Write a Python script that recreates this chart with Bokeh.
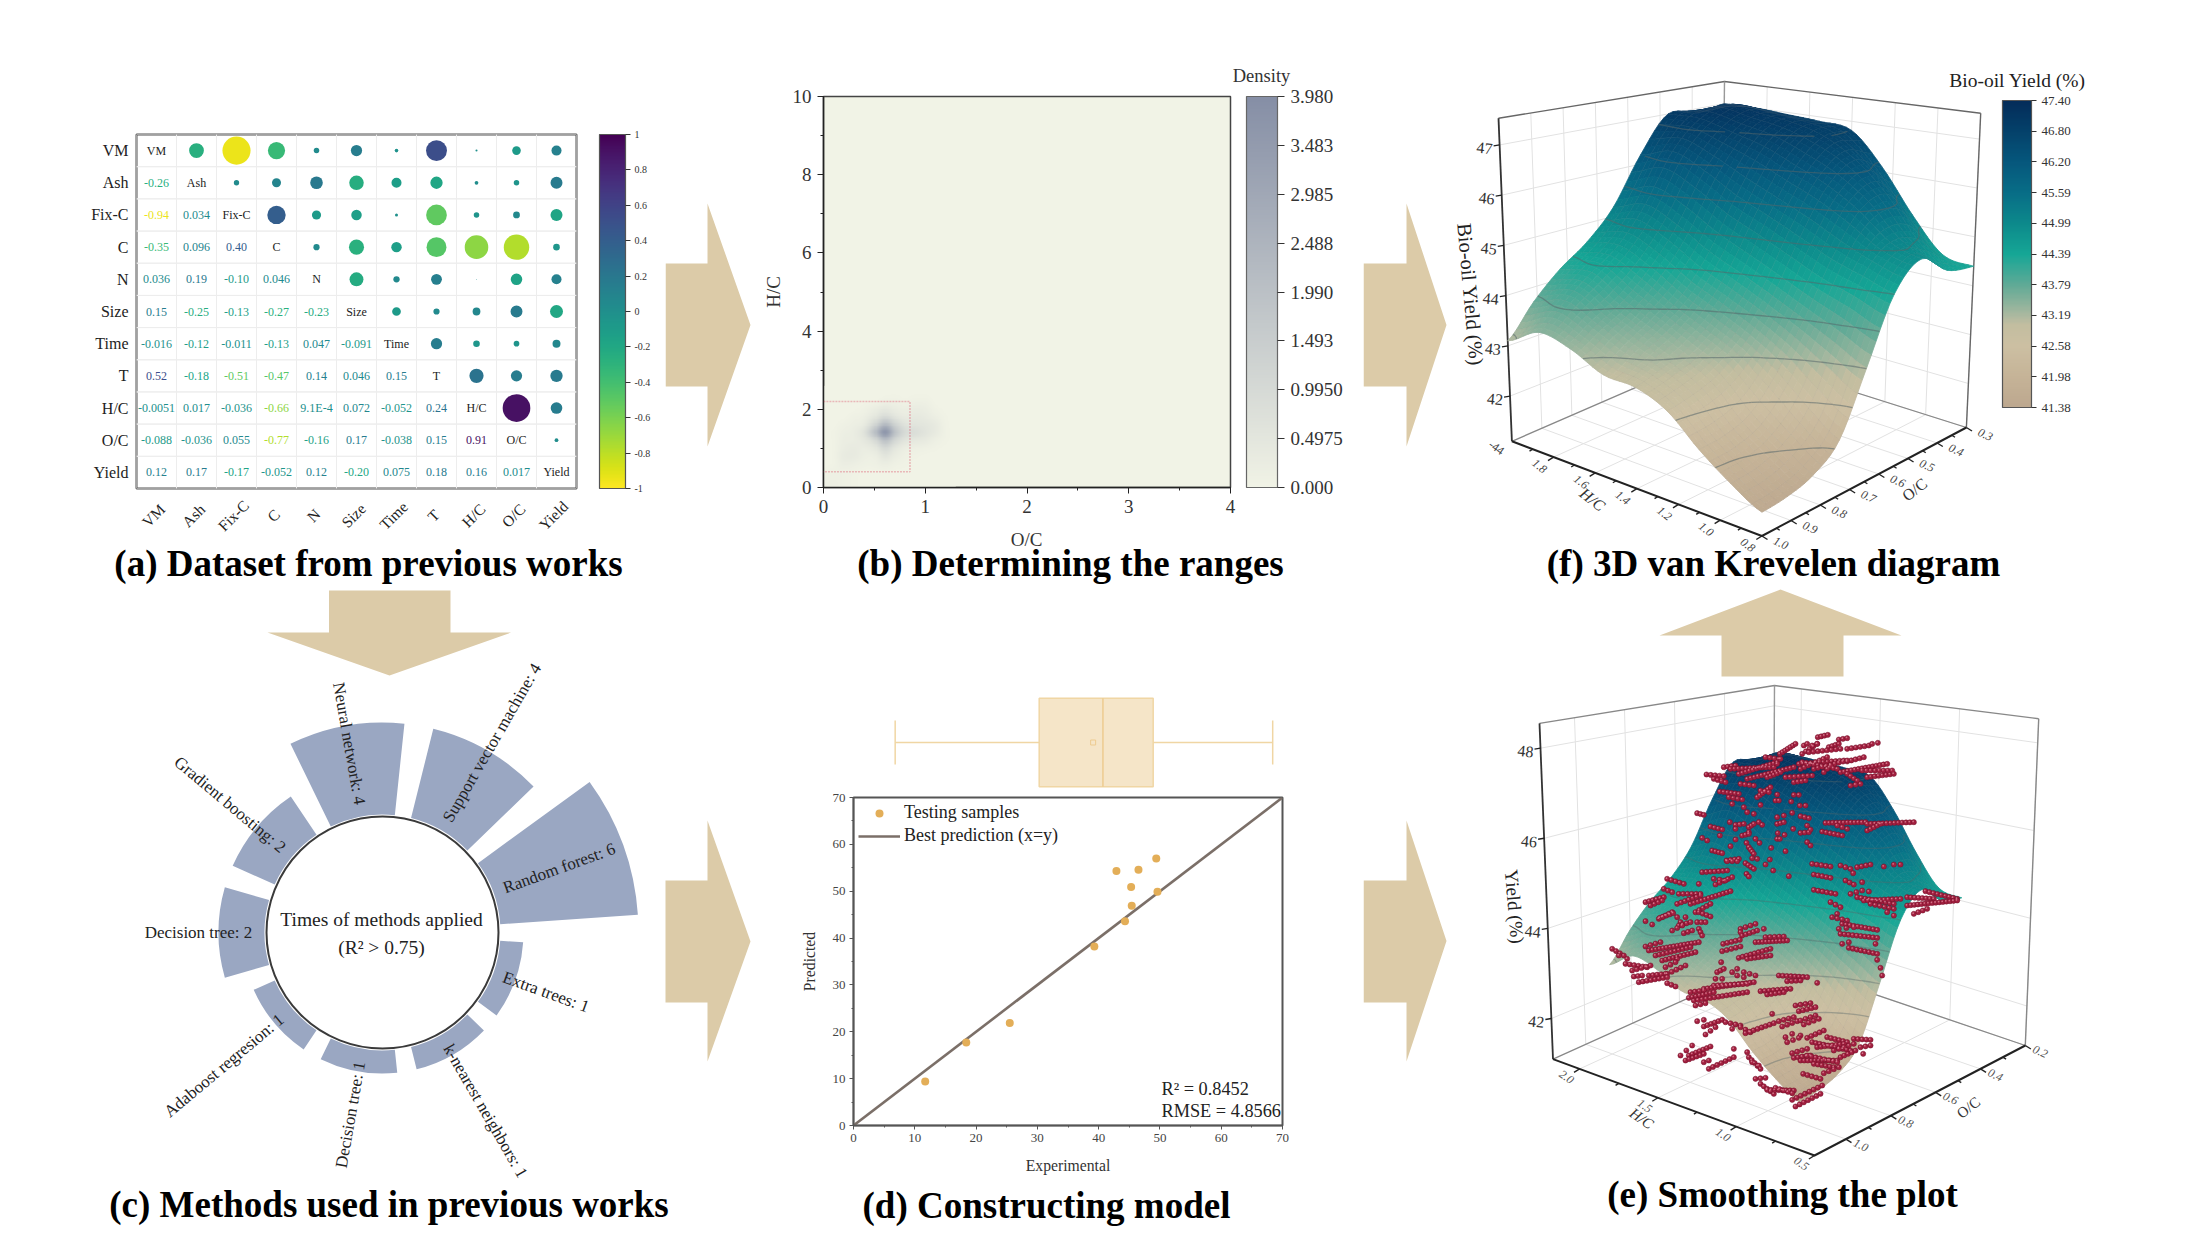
import numpy as np
from bokeh.core.properties import value
from bokeh.embed import file_html
from bokeh.layouts import column, row
from bokeh.models import (BoxAnnotation, ColorBar, ColumnDataSource, FactorRange, FixedTicker, Label,
                          Legend, LegendItem, LinearColorMapper, Range1d, SingleIntervalTicker)
from bokeh.palettes import Viridis256
from bokeh.plotting import figure
from bokeh.resources import INLINE
from bokeh.transform import linear_cmap

SERIF = "Liberation Serif"

# ---------------------------------------------------------------- (a) correlation matrix
VARS = ["VM", "Ash", "Fix-C", "C", "N", "Size", "Time", "T", "H/C", "O/C", "Yield"]
CORR_TEXT = [
    [],
    ["-0.26"],
    ["-0.94", "0.034"],
    ["-0.35", "0.096", "0.40"],
    ["0.036", "0.19", "-0.10", "0.046"],
    ["0.15", "-0.25", "-0.13", "-0.27", "-0.23"],
    ["-0.016", "-0.12", "-0.011", "-0.13", "0.047", "-0.091"],
    ["0.52", "-0.18", "-0.51", "-0.47", "0.14", "0.046", "0.15"],
    ["-0.0051", "0.017", "-0.036", "-0.66", "9.1E-4", "0.072", "-0.052", "0.24"],
    ["-0.088", "-0.036", "0.055", "-0.77", "-0.16", "0.17", "-0.038", "0.15", "0.91"],
    ["0.12", "0.17", "-0.17", "-0.052", "0.12", "-0.20", "0.075", "0.18", "0.16", "0.017"],
]

# ---------------------------------------------------------------- (b) density map
DENS_OC = [0, .1, .2, .3, .4, .5, .6, .7, .8, .9, 1.0, 1.1, 1.2, 1.3]
DENS_HC = [0, .2, .4, .6, .8, 1.0, 1.2, 1.4, 1.6, 1.8, 2.0, 2.2, 2.4, 2.6]
DENSITY = [
    [.15, .15, .08, .03, 0, 0, 0, 0, 0, 0, 0, 0, 0, 0],
    [.09, .12, .08, .03, 0, 0, 0, 0, 0, 0, 0, 0, 0, 0],
    [.03, .08, .10, .05, 0, 0, .03, 0, 0, 0, 0, 0, 0, 0],
    [0, .03, .20, .16, .08, .08, .20, .08, .03, 0, 0, 0, 0, 0],
    [0, .03, .30, .32, .16, .16, .50, .24, .08, .03, 0, 0, 0, 0],
    [0, .03, .24, .32, .24, .42, 1.0, .50, .20, .13, .08, .03, 0, 0],
    [0, .03, .20, .24, .42, .95, 2.0, 1.1, .56, .40, .32, .13, .03, 0],
    [0, .03, .16, .24, .64, 1.9, 3.6, 1.9, .95, .80, .56, .32, .06, 0],
    [0, 0, .08, .16, .32, 1.1, 2.2, 1.25, .64, .56, .48, .32, .05, 0],
    [0, 0, 0, .08, .16, .48, .95, .56, .32, .40, .32, .16, .03, 0],
    [0, 0, 0, 0, .05, .20, .40, .24, .16, .24, .20, .05, 0, 0],
    [0, 0, 0, 0, 0, 0, .08, .08, .03, .08, .08, 0, 0, 0],
    [0] * 14,
    [0] * 14,
]
DENS_TICKS = [0.0, 0.4975, 0.995, 1.493, 1.99, 2.488, 2.985, 3.483, 3.98]
DENS_LABELS = ["0.000", "0.4975", "0.9950", "1.493", "1.990", "2.488", "2.985", "3.483", "3.980"]

# ---------------------------------------------------------------- (c) methods
METHODS = ["Random forest", "Support vector machine", "Neural network", "Gradient boosting", "Decision tree",
           "Adaboost regresion", "Decision tree", "k-nearest neighbors", "Extra trees"]
METHOD_COUNTS = [6, 4, 4, 2, 2, 1, 1, 1, 1]

# ---------------------------------------------------------------- (d) model
TEST_EXP = [11.7, 18.4, 25.5, 39.3, 42.9, 44.3, 45.3, 45.4, 46.5, 49.4, 49.6]
TEST_PRED = [9.4, 17.7, 21.9, 38.2, 54.3, 43.6, 50.9, 46.9, 54.6, 57.0, 49.9]
BOX_WHISKER = [6.8, 68.4]
BOX_Q = [30.3, 40.7, 48.9]
BOX_MEAN = 39.1

# ---------------------------------------------------------------- (e, f) yield surface
HC_GRID = [0.8, 0.95, 1.1, 1.25, 1.4, 1.55, 1.7, 1.85, 2.0]
OC_GRID = [1.0, 0.9125, 0.825, 0.7375, 0.65, 0.5625, 0.475, 0.3875, 0.3]
YIELD = [
    [41.5, 41.55, 41.7, 42.1, 43.2, 44.4, 44.9, 44.5, 44.4],
    [41.8, 41.85, 42.05, 42.5, 43.5, 44.6, 45.1, 45.0, 44.5],
    [42.2, 42.25, 42.45, 43.0, 43.8, 44.8, 45.6, 45.8, 45.2],
    [42.7, 42.8, 43.0, 43.4, 44.1, 45.1, 46.0, 46.4, 46.1],
    [42.95, 43.1, 43.3, 43.7, 44.4, 45.4, 46.3, 46.8, 46.8],
    [43.0, 43.3, 43.6, 44.0, 44.7, 45.7, 46.6, 47.0, 46.9],
    [43.3, 43.6, 43.9, 44.4, 45.1, 46.1, 46.8, 47.1, 46.95],
    [43.45, 43.9, 44.3, 44.7, 45.4, 46.4, 47.0, 47.2, 47.0],
    [43.1, 43.7, 44.2, 44.6, 45.2, 46.2, 47.0, 46.9, 47.0],
]
F_CBAR_TICKS = [41.38, 41.98, 42.58, 43.19, 43.79, 44.39, 44.99, 45.59, 46.20, 46.80, 47.40]
CMAP_Z = [41.38, 41.98, 42.58, 43.0, 43.19, 43.79, 44.39, 44.99, 45.59, 46.2, 46.8, 47.4]
CMAP_RGB = [(189, 168, 143), (198, 180, 152), (205, 192, 163), (195, 190, 160), (170, 185, 160), (95, 170, 150),
            (22, 167, 150), (13, 138, 140), (8, 110, 135), (6, 88, 125), (5, 66, 107), (4, 45, 90)]

# Samples of panel (e), read as runs of dots on the picture plane: x0, y0, x1, y1, count
E_RUNS_TOP = [
    (412,35,442,28,4),(475,42,500,38,3),(298,85,345,55,7),(365,85,410,55,5),(370,60,380,55,2),(395,60,410,55,2),
    (500,70,565,60,6),(575,55,592,52,2),(445,65,475,55,4),(385,80,480,70,8),(355,115,490,105,12),(500,108,550,95,5),
    (360,130,440,95,8),(130,125,165,120,4),(78,147,130,152,5),(100,160,135,170,4),(150,130,280,125,12),
    (175,145,290,110,12),(200,160,340,125,14),(180,175,220,180,4),(260,155,300,140,5),(315,155,395,150,7),
    (340,170,375,165,4),(255,95,295,100,4),(290,115,300,100,2),(365,110,470,130,10),(400,130,500,105,9),
    (430,140,450,120,3),(480,140,620,115,14),(500,145,530,165,4),(510,180,540,175,3),(560,155,640,145,8),
    (545,135,635,135,8),(118,198,175,205,6),(145,215,185,222,4),(155,235,155,235,1),(230,215,270,185,6),
    (240,195,265,200,3),(240,238,240,238,1),(285,225,295,225,2),(290,207,290,207,1),(340,208,355,208,2),
    (332,228,332,228,1),(358,240,375,240,2),(190,245,190,245,1),(200,260,200,260,1),(220,265,220,265,1),
    (50,263,70,268,3),(335,262,335,262,1),(360,272,385,278,3),(290,275,310,270,2),(290,295,310,290,3),
    (338,310,338,310,1),(380,300,380,300,1),(360,322,385,320,3),(390,312,390,312,1),(148,290,148,290,1),
    (165,298,190,295,3),(205,305,220,295,3),(235,290,245,298,2),(90,303,125,312,4),(165,310,165,310,1),
    (205,320,205,320,1),(118,330,118,330,1),(185,330,205,325,3),(165,342,165,342,1),(225,340,225,340,1),
    (65,337,80,345,2),(292,323,292,323,1),(312,328,312,328,1),(290,340,298,340,2),(198,352,198,352,1),
    (237,352,237,352,1),(380,350,390,360,2),(150,362,150,362,1),(205,365,220,385,4),(272,367,272,367,1),
    (315,377,315,377,1),(95,375,125,383,4),(215,398,230,400,2),(138,405,175,400,4),(268,402,268,402,1),
    (435,292,555,290,12),(470,300,500,310,3),(560,295,700,290,13),(560,315,600,295,5),(425,318,485,330,6),
    (680,515,760,520,8),(735,497,830,520,9),(680,540,830,525,15),(700,565,740,550,4),
]
E_RUNS_MID = [
    (380,2,410,2,3),(435,8,460,25,4),(495,12,495,12,1),(518,30,518,30,1),(438,40,445,48,2),(565,47,565,47,1),
    (635,10,690,18,5),(640,42,690,52,5),(640,88,705,100,6),(720,15,750,25,3),(770,20,810,12,4),(850,18,850,18,1),
    (880,12,900,12,2),(735,60,760,72,3),(758,38,758,38,1),(785,65,785,65,1),(750,100,785,90,3),(805,93,805,93,1),
    (770,110,880,130,10),(790,120,900,115,10),(810,130,880,145,6),(860,155,860,155,1),(880,165,880,165,1),
    (690,125,720,140,3),(710,160,710,160,1),(695,170,740,180,4),(725,190,830,208,10),(715,205,760,200,3),
    (720,220,830,232,10),(825,250,825,250,1),(725,250,745,245,2),(745,262,830,280,8),(830,298,830,298,1),
    (840,322,840,322,1),(845,345,845,345,1),(200,55,250,70,5),(295,70,295,70,1),(305,35,380,30,7),(345,72,395,50,5),
    (340,55,375,60,3),(190,85,215,95,3),(235,100,300,100,6),(230,130,300,105,7),(270,130,390,92,12),
    (135,125,190,110,6),(150,135,185,120,4),(285,155,330,130,5),(295,155,330,168,4),(175,175,215,155,5),
    (178,172,218,158,5),(135,182,135,182,1),(155,192,155,192,1),(230,170,240,185,2),(255,170,255,170,1),
    (235,195,270,185,4),(215,210,245,195,3),(250,218,275,210,3),(290,185,315,185,3),(295,205,305,225,3),
    (135,258,180,245,4),(145,270,295,245,15),(165,285,270,260,10),(185,300,285,275,10),(230,295,230,295,1),
    (195,320,225,305,3),(200,340,255,315,5),(35,265,70,285,4),(55,285,80,295,2),(75,310,140,320,6),
    (95,330,150,315,5),(100,348,125,345,3),(145,345,195,340,5),(115,365,200,350,8),(200,368,225,378,3),
    (420,205,465,190,4),(425,225,470,210,5),(420,215,420,215,1),(490,205,490,205,1),(368,250,418,238,5),
    (365,272,420,258,5),(465,245,560,240,10),(495,230,550,228,5),(415,292,510,265,9),(440,295,510,285,7),
    (362,305,362,305,1),(350,335,370,325,3),(395,335,410,325,2),(410,345,410,345,1),(430,335,465,345,3),
    (430,350,430,350,1),(345,355,365,355,2),(535,345,620,350,8),(560,362,600,360,4),(650,367,650,367,1),
    (310,385,460,365,14),(340,375,440,370,9),(270,395,310,390,4),(265,412,340,395,8),(280,420,440,395,14),
    (480,392,570,385,8),(500,402,550,395,5),
]
E_RUNS_LOW = [
    (105,15,135,8,3),(405,15,450,8,4),(415,32,465,20,5),(335,40,335,40,1),(355,62,400,50,4),(365,78,410,62,4),
    (420,60,465,45,4),(430,72,475,55,4),(110,62,130,58,2),(130,78,185,58,6),(135,102,165,80,3),(195,65,240,75,4),
    (215,85,215,85,1),(240,80,270,95,3),(255,98,340,68,8),(375,110,395,100,2),(420,105,420,105,1),(380,125,415,112,3),
    (440,112,490,90,5),(500,110,560,125,6),(455,125,570,150,11),(470,140,550,130,8),(520,150,580,130,5),
    (580,115,630,118,5),(600,140,630,135,3),(540,170,585,150,5),(608,160,608,160,1),(395,158,440,145,4),
    (400,172,450,165,5),(420,180,530,180,11),(440,165,530,185,8),(460,190,520,200,6),(490,218,535,200,4),
    (428,220,480,235,5),(60,165,95,135,3),(85,165,150,138,7),(75,180,130,160,6),(130,185,145,180,2),(220,145,220,145,1),
    (145,205,220,170,7),(260,155,260,155,1),(265,170,300,205,5),(275,185,295,195,2),(285,235,315,232,3),
    (300,250,340,280,5),(320,268,400,270,8),(345,262,395,278,5),(395,298,485,255,8),(405,318,480,280,7),
]


# ---------------------------------------------------------------- helpers
def canvas(x0, x1, y0, y1):
    p = figure(width=x1 - x0, height=y1 - y0, x_range=Range1d(x0, x1), y_range=Range1d(y1, y0),
               x_axis_type=None, y_axis_type=None, toolbar_location=None, output_backend="svg",
               min_border=0, outline_line_color=None)
    p.grid.visible = False
    return p


def txt(p, x, y, s, size, angle=0, align="center", color="#222222", style="normal"):
    p.text(x=[x], y=[y], text=[s], text_font=value(SERIF), text_font_size=value(f"{size}px"), text_color=color,
           text_align=align, text_baseline="middle", angle=np.deg2rad(angle), text_font_style=style)


def caption(p, s, x, y):
    txt(p, x, y, s, 37, color="#000000", style="bold")


def lab(p, ox, oy, s, x, y, size, bold=False, angle=0, color="#222222", align="center"):
    p.add_layout(Label(x=x - ox, y=y - oy, x_units="canvas", y_units="canvas", text=s, text_font=SERIF,
                       text_font_size=f"{size}px", text_font_style="bold" if bold else "normal",
                       text_color=color, text_align=align, text_baseline="middle", angle=angle, angle_units="deg"))


def cr1d(a, k):
    n, out = len(a), []
    for i in range(n - 1):
        p0, p1, p2, p3 = a[max(i - 1, 0)], a[i], a[i + 1], a[min(i + 2, n - 1)]
        for s in np.linspace(0, 1, k, endpoint=False):
            out.append(0.5 * (2 * p1 + (p2 - p0) * s + (2 * p0 - 5 * p1 + 4 * p2 - p3) * s ** 2
                              + (3 * p1 - p0 - 3 * p2 + p3) * s ** 3))
    out.append(a[-1])
    return np.array(out)


def upsample(m, k):
    m = np.apply_along_axis(cr1d, 0, np.asarray(m, float), k)
    return np.apply_along_axis(cr1d, 1, m, k)


ARROW_C = "#DCCBA8"


def right_arrow(y_shaft0, y_shaft1, y_head0, y_head1, x0, xh, xt, ox0, ox1, oy0, oy1):
    p = canvas(ox0, ox1, oy0, oy1)
    ym = (y_head0 + y_head1) / 2
    p.patch([x0, xh, xh, xt, xh, xh, x0], [y_shaft0, y_shaft0, y_head0, ym, y_head1, y_shaft1, y_shaft1],
            color=ARROW_C, line_width=0)
    return p


cmap_pal = []
for zv in np.linspace(CMAP_Z[0], CMAP_Z[-1], 256):
    c = [int(np.interp(zv, CMAP_Z, [r[ch] for r in CMAP_RGB])) for ch in range(3)]
    cmap_pal.append("#%02x%02x%02x" % tuple(c))


def make_proj(b, t, hc0, hc1, oc0, oc1, z0, z1):
    # corners in the order front, left, right, back on the floor (b) and ceiling (t)
    b, t = np.array(b, float), np.array(t, float)

    def f(hc, oc, z):
        u, v, w = (np.asarray(hc, float) - hc0) / (hc1 - hc0), (oc0 - np.asarray(oc, float)) / (oc0 - oc1), \
            (np.asarray(z, float) - z0) / (z1 - z0)
        out = []
        for ch in range(2):
            bb = b[0, ch] * (1 - u) * (1 - v) + b[1, ch] * u * (1 - v) + b[2, ch] * (1 - u) * v + b[3, ch] * u * v
            tt = t[0, ch] * (1 - u) * (1 - v) + t[1, ch] * u * (1 - v) + t[2, ch] * (1 - u) * v + t[3, ch] * u * v
            out.append(bb * (1 - w) + tt * w)
        return out
    return f


def draw_box(p, proj, hc0, hc1, oc0, oc1, z0, z1, hc_ticks, oc_ticks, z_ticks, hc_minor, oc_minor, wall, edge):
    def pl(pts, color, w):
        xy = [proj(*q) for q in pts]
        p.line([a[0] for a in xy], [a[1] for a in xy], line_color=color, line_width=w)
    for z in z_ticks:
        pl([(hc1, oc0, z), (hc1, oc1, z), (hc0, oc1, z)], wall, 1)
    for hc in hc_ticks:
        pl([(hc, oc0, z0), (hc, oc1, z0), (hc, oc1, z1)], wall, 1)
    for oc in oc_ticks:
        pl([(hc0, oc, z0), (hc1, oc, z0), (hc1, oc, z1)], wall, 1)
    pl([(hc1, oc0, z1), (hc1, oc1, z1), (hc0, oc1, z1)], edge, 1.4)
    pl([(hc1, oc1, z0), (hc1, oc1, z1)], "#999999", 1.4)
    pl([(hc0, oc1, z0), (hc0, oc1, z1)], edge, 1.4)
    pl([(hc1, oc0, z0), (hc1, oc1, z0), (hc0, oc1, z0)], "#888888", 1.3)
    pl([(hc1, oc0, z0), (hc1, oc0, z1)], "#333333", 1.8)
    pl([(hc1, oc0, z0), (hc0, oc0, z0), (hc0, oc1, z0)], "#222222", 2)
    for hc, ln in [(h, 7) for h in hc_ticks] + [(h, 4) for h in hc_minor]:
        x, y = proj(hc, oc0, z0)
        p.line([x, x - ln * .8], [y, y + ln * .5], line_color="#222222", line_width=1.4)
    for oc, ln in [(h, 7) for h in oc_ticks] + [(h, 4) for h in oc_minor]:
        x, y = proj(hc0, oc, z0)
        p.line([x, x + ln * .8], [y, y + ln * .5], line_color="#222222", line_width=1.4)
    for z in z_ticks:
        x, y = proj(hc1, oc0, z)
        p.line([x, x - 6], [y, y + 1], line_color="#222222", line_width=1.4)


def draw_surface(p, proj, k=6, mesh_alpha=0.14, contour_alpha=0.55):
    z = upsample(YIELD, k)
    hc = np.interp(np.linspace(0, len(HC_GRID) - 1, z.shape[0]), range(len(HC_GRID)), HC_GRID)
    oc = np.interp(np.linspace(0, len(OC_GRID) - 1, z.shape[1]), range(len(OC_GRID)), OC_GRID)
    H, O = np.meshgrid(hc, oc, indexing="ij")
    X, Y = proj(H, O, z)
    n, m = z.shape
    idx = sorted([(i, j) for i in range(n - 1) for j in range(m - 1)], key=lambda t: -(t[0] + t[1]))
    xs, ys, zc = [], [], []
    segs = {"x0": [], "y0": [], "x1": [], "y1": []}
    levels = F_CBAR_TICKS[1:-1]
    for i, j in idx:
        c = [(i, j), (i + 1, j), (i + 1, j + 1), (i, j + 1)]
        xs.append([X[q] for q in c])
        ys.append([Y[q] for q in c])
        zc.append(float(np.mean([z[q] for q in c])))
        for lv in levels:
            pts = []
            for e in range(4):
                a, b = c[e], c[(e + 1) % 4]
                za, zb = z[a], z[b]
                if (za - lv) * (zb - lv) < 0:
                    s = (lv - za) / (zb - za)
                    pts.append((X[a] + s * (X[b] - X[a]), Y[a] + s * (Y[b] - Y[a])))
            if len(pts) >= 2:
                segs["x0"].append(pts[0][0]); segs["y0"].append(pts[0][1])
                segs["x1"].append(pts[1][0]); segs["y1"].append(pts[1][1])
    src = ColumnDataSource(dict(xs=xs, ys=ys, z=zc))
    cm = linear_cmap("z", cmap_pal, CMAP_Z[0], CMAP_Z[-1])
    p.patches("xs", "ys", source=src, fill_color=cm, line_color=cm, line_width=0.8)
    mx, my = [], []
    for i in range(0, n, 2):
        mx.append(list(X[i, :])); my.append(list(Y[i, :]))
    for j in range(0, m, 2):
        mx.append(list(X[:, j])); my.append(list(Y[:, j]))
    p.multi_line(mx, my, line_color="#8A8A8A", line_alpha=mesh_alpha, line_width=0.7)
    p.segment("x0", "y0", "x1", "y1", source=ColumnDataSource(segs), line_color="#55666A",
              line_alpha=contour_alpha, line_width=1.3)


# ---------------------------------------------------------------- panel a
corr = np.eye(len(VARS))
cx, cy, ct, cv = [], [], [], []
for i, rowv in enumerate(CORR_TEXT):
    for j, s in enumerate(rowv):
        corr[i, j] = corr[j, i] = float(s)
        cx.append(VARS[j]); cy.append(VARS[i]); ct.append(s); cv.append(float(s))
up_x, up_y, up_v = [], [], []
for i in range(len(VARS)):
    for j in range(i + 1, len(VARS)):
        up_x.append(VARS[j]); up_y.append(VARS[i]); up_v.append(corr[i, j])
viridis_r = list(reversed(Viridis256))
mapper_a = LinearColorMapper(palette=viridis_r, low=-1, high=1)
pa = figure(width=665, height=496, x_range=FactorRange(factors=VARS), y_range=FactorRange(factors=VARS[::-1]),
            x_axis_type=None, toolbar_location=None, output_backend="svg",
            min_border_left=136, min_border_right=89, min_border_top=134, min_border_bottom=8,
            outline_line_color="#555555", outline_line_width=2)
pa.grid.visible = False
ax = pa.yaxis[0]
ax.axis_line_color = None
ax.major_tick_line_color = None
ax.minor_tick_line_color = None
ax.major_tick_out = 0
ax.major_tick_in = 0
ax.minor_tick_out = 0
ax.major_label_text_font = SERIF
ax.major_label_text_font_size = "16px"
ax.major_label_text_color = "#222222"
ax.major_label_standoff = 8
gx = [a for a in VARS for _ in VARS]
gy = [b for _ in VARS for b in VARS]
pa.rect(gx, gy, 1, 1, fill_color=None, line_color="#EDEDED", line_width=1)
pa.scatter("x", "y", size="s", fill_color=linear_cmap("c", viridis_r, -1, 1), line_color=None,
           source=ColumnDataSource(dict(x=up_x, y=up_y, c=up_v, s=[29 * abs(v) ** .5 for v in up_v])))
pa.text("x", "y", "t", source=ColumnDataSource(dict(x=cx, y=cy, t=ct, c=cv)), text_font=value(SERIF),
        text_font_size="12px", text_color=linear_cmap("c", viridis_r, -1, 1), text_align="center", text_baseline="middle")
pa.text(VARS, VARS, VARS, text_font=value(SERIF), text_font_size="12px", text_color="#222222",
        text_align="center", text_baseline="middle")
ticks_a = [round(-1 + .2 * i, 1) for i in range(11)]
cb_a = ColorBar(color_mapper=mapper_a, ticker=FixedTicker(ticks=ticks_a), width=26, height=354, padding=0, margin=0,
                major_label_overrides={t: ("0" if t == 0 else ("1" if t == 1 else ("-1" if t == -1 else f"{t:g}"))) for t in ticks_a},
                major_label_text_font=SERIF, major_label_text_font_size="10px", major_label_text_color="#333333",
                major_tick_in=0, major_tick_out=5, major_tick_line_color="#333333", label_standoff=4,
                bar_line_color="#555555", bar_line_width=1.2, location=(23, 0), minor_tick_line_color=None)
pa.add_layout(cb_a, "right")
sa = canvas(0, 665, 496, 588)
for i, name in enumerate(VARS):
    txt(sa, 136 + 40.0 * (i + .5) - 3, 515, name, 15.5, angle=45)
caption(sa, "(a) Dataset from previous works", 368, 563)

# ---------------------------------------------------------------- panel b
dens_k = 10
dens = np.clip(upsample(DENSITY, dens_k), 0, None)
pal_b = []
for s in np.linspace(0, 1, 256):
    pal_b.append("#%02x%02x%02x" % tuple(int(a + (b - a) * s) for a, b in zip((241, 243, 230), (134, 143, 166))))
mapper_b = LinearColorMapper(palette=pal_b, low=0, high=3.98)
pb = figure(width=611, height=442, x_range=Range1d(0, 4), y_range=Range1d(0, 10), toolbar_location=None,
            output_backend="svg", min_border_left=71, min_border_right=133, min_border_top=10, min_border_bottom=41,
            background_fill_color=pal_b[0], outline_line_color="#444444", outline_line_width=1.5)
pb.grid.visible = False
pb.image(image=[dens], x=DENS_OC[0], y=DENS_HC[0], dw=DENS_OC[-1] - DENS_OC[0], dh=DENS_HC[-1] - DENS_HC[0], color_mapper=mapper_b)
pb.xaxis[0].ticker = SingleIntervalTicker(interval=1, num_minor_ticks=2)
pb.yaxis[0].ticker = SingleIntervalTicker(interval=2, num_minor_ticks=2)
pb.yaxis[0].axis_label = "H/C"
pb.yaxis[0].axis_label_text_font = SERIF
pb.yaxis[0].axis_label_text_font_size = "19px"
pb.yaxis[0].axis_label_text_font_style = "normal"
pb.yaxis[0].axis_label_text_color = "#333333"
pb.yaxis[0].axis_label_standoff = 6
for axx in (pb.xaxis[0], pb.yaxis[0]):
    axx.major_label_text_font = SERIF
    axx.major_label_text_font_size = "19px"
    axx.major_label_text_color = "#333333"
    axx.axis_line_color = "#222222"
    axx.axis_line_width = 1.5
    axx.major_tick_line_color = "#222222"
    axx.minor_tick_line_color = "#222222"
    axx.major_tick_in = 0; axx.major_tick_out = 6
    axx.minor_tick_in = 0; axx.minor_tick_out = 3
    axx.major_label_standoff = 6
pb.add_layout(BoxAnnotation(left=-.06, right=.85, bottom=.4, top=2.2, fill_color=None, line_color="#D8304E",
                            line_width=1.5, line_dash="2 1"))
cb_b = ColorBar(color_mapper=mapper_b, ticker=FixedTicker(ticks=DENS_TICKS), width=31, height=391, padding=0, margin=0,
                major_label_overrides=dict(zip(DENS_TICKS, DENS_LABELS)), major_label_text_font=SERIF,
                major_label_text_font_size="19px", major_label_text_color="#333333", major_tick_in=0, major_tick_out=7,
                major_tick_line_color="#333333", label_standoff=6, bar_line_color="#666666", bar_line_width=1.2,
                location=(16, 0), minor_tick_line_color=None)
pb.add_layout(cb_b, "right")
sb_top = canvas(752, 1363, 0, 86)
txt(sb_top, 1261, 75, "Density", 18.5, color="#333333")
sb_low = canvas(752, 1363, 528, 588)
txt(sb_low, 1026, 539, "O/C", 19, color="#333333")
caption(sb_low, "(b) Determining the ranges", 1070, 563)

# ---------------------------------------------------------------- panel f
pf = canvas(1448, 2177, 0, 588)
F_BASE = [(1761.4, 535.5), (1511.4, 440.8), (1965.9, 427.0), (1721.3, 349.6)]
F_TOP = [(1762.3, 153.3), (1498.0, 117.8), (1980.2, 112.7), (1724.0, 81.0)]
proj_f = make_proj(F_BASE, F_TOP, 0.8, 2.0, 1.0, 0.3, 41.1, 47.53)
F_HC = [0.8, 1.0, 1.2, 1.4, 1.6, 1.8]
F_OC = [0.3, 0.4, 0.5, 0.6, 0.7, 0.8, 0.9, 1.0]
F_Z = [42, 43, 44, 45, 46, 47]
draw_box(pf, proj_f, 0.8, 2.0, 1.0, 0.3, 41.1, 47.53, F_HC, F_OC, F_Z, [0.9, 1.1, 1.3, 1.5, 1.7, 1.9],
         [0.35, 0.45, 0.55, 0.65, 0.75, 0.85, 0.95], "#E2E2E2", "#666666")
draw_surface(pf, proj_f)
for h in F_HC:
    x, y = proj_f(h, 1.0, 41.1)
    txt(pf, x - 14, y + 9, f"{h:.1f}", 12, angle=-38, color="#444444", style="italic")
for o in F_OC:
    x, y = proj_f(0.8, o, 41.1)
    txt(pf, x + 19, y + 7, f"{o:.1f}", 12, angle=-25, color="#444444", style="italic")
for z in F_Z:
    x, y = proj_f(2.0, 1.0, z)
    txt(pf, x - 15, y + 3, str(z), 16, angle=-6, color="#333333")
txt(pf, 1496, 447, "-44", 12, angle=-35, color="#444444")
txt(pf, 1470, 294, "Bio-oil Yield (%)", 20.5, angle=-85, color="#222222")
txt(pf, 1592, 499, "H/C", 16, angle=-38, color="#333333", style="italic")
txt(pf, 1914, 489, "O/C", 16, angle=38, color="#333333")
txt(pf, 2017, 80, "Bio-oil Yield (%)", 19.5, color="#222222")
mapper_f = LinearColorMapper(palette=cmap_pal, low=CMAP_Z[0], high=CMAP_Z[-1])
cb_f = ColorBar(color_mapper=mapper_f, ticker=FixedTicker(ticks=F_CBAR_TICKS), width=29, height=307, padding=0, margin=0,
                location=(554, 181), major_label_overrides={t: f"{t:.2f}" for t in F_CBAR_TICKS}, major_label_text_font=SERIF,
                major_label_text_font_size="13px", major_label_text_color="#333333", major_tick_in=0, major_tick_out=5,
                major_tick_line_color="#333333", label_standoff=5, bar_line_color="#555555", bar_line_width=1.2,
                minor_tick_line_color=None, background_fill_alpha=0)
pf.add_layout(cb_f, "center")
caption(pf, "(f) 3D van Krevelen diagram", 1773, 563)

# ---------------------------------------------------------------- panel c
PX_PER_COUNT = 23.0
CX, CY = 382.0, 932.0
pc = figure(width=752, height=644, x_range=Range1d((0 - CX) / PX_PER_COUNT, (752 - CX) / PX_PER_COUNT),
            y_range=Range1d((CY - 1232) / PX_PER_COUNT, (CY - 588) / PX_PER_COUNT), x_axis_type=None, y_axis_type=None,
            toolbar_location=None, output_backend="svg", min_border=0, outline_line_color=None)
pc.grid.visible = False
R0 = 118 / PX_PER_COUNT
start = np.deg2rad(4 + 40 * np.arange(len(METHODS)))
pc.annular_wedge(0, 0, inner_radius=R0, outer_radius=[R0 + c for c in METHOD_COUNTS], start_angle=start,
                 end_angle=start + np.deg2rad(32), fill_color="#9AA7C2", line_color=None)
pc.circle(0, 0, radius=116 / PX_PER_COUNT, fill_color="#FFFFFF", line_color="#3A3A3A", line_width=2)
label_r = np.array([188, 219, 192, 199, 184, 207, 185, 206, 174]) / PX_PER_COUNT
mid = 20 + 40 * np.arange(len(METHODS))
rot = [m if (m <= 90) else (m - 180 if m <= 270 else m - 360) for m in mid]
pc.text(label_r * np.cos(np.deg2rad(mid)), label_r * np.sin(np.deg2rad(mid)),
        [f"{n}: {c}" for n, c in zip(METHODS, METHOD_COUNTS)], angle=np.deg2rad(rot), text_font=value(SERIF),
        text_font_size="17px", text_color="#222222", text_align="center", text_baseline="middle")
lab(pc, 0, 588, "Times of methods applied", 381, 918.5, 19.5)
lab(pc, 0, 588, "(R² > 0.75)", 381, 947, 19.5)
ax_ = [328.5, 450, 450, 510.6, 389, 267, 328.5, 328.5]
ay_ = [590, 590, 632, 632, 675, 632, 632, 590]
pc.patch([(a - CX) / PX_PER_COUNT for a in ax_], [(CY - a) / PX_PER_COUNT for a in ay_], color=ARROW_C, line_width=0)
ax2 = [665, 707, 707, 750, 707, 707, 665]
ay2 = [880, 880, 820, 941, 1061, 1002, 1002]
pc.patch([(a - CX) / PX_PER_COUNT for a in ax2], [(CY - a) / PX_PER_COUNT for a in ay2], color=ARROW_C, line_width=0)
lab(pc, 0, 588, "(c) Methods used in previous works", 388.5, 1204, 37, bold=True, color="#000000")

# ---------------------------------------------------------------- panel d
xr_d = Range1d(0, 70)
pbx = figure(width=611, height=202, x_range=xr_d, y_range=Range1d(-.02, 1.02), x_axis_type=None, y_axis_type=None,
             toolbar_location=None, output_backend="svg", min_border_left=101, min_border_right=81,
             min_border_top=108, min_border_bottom=2, outline_line_color=None)
pbx.grid.visible = False
BOX_LINE, BOX_FILL = "#F0D6A4", "#F5E5C8"
pbx.segment(BOX_WHISKER, [.5, .5], [BOX_Q[0], BOX_Q[2]], [.5, .5], line_color=BOX_LINE, line_width=1.5)
pbx.segment(BOX_WHISKER, [.25, .25], BOX_WHISKER, [.75, .75], line_color=BOX_LINE, line_width=1.5)
pbx.quad(left=[BOX_Q[0]], right=[BOX_Q[2]], bottom=[0], top=[1], fill_color=BOX_FILL, line_color=BOX_LINE, line_width=1.5)
pbx.segment([BOX_Q[1]], [0], [BOX_Q[1]], [1], line_color="#EDCB90", line_width=1.5)
pbx.scatter([BOX_MEAN], [.5], marker="square", size=5, fill_color=None, line_color="#EDCB90", line_width=1)

pd_ = figure(width=611, height=390, x_range=xr_d, y_range=Range1d(0, 70), toolbar_location=None, output_backend="svg",
             min_border_left=101, min_border_right=81, min_border_top=7, min_border_bottom=55,
             outline_line_color="#555555", outline_line_width=2)
pd_.grid.visible = False
for axx, name in ((pd_.xaxis[0], "Experimental"), (pd_.yaxis[0], "Predicted")):
    axx.ticker = SingleIntervalTicker(interval=10, num_minor_ticks=2)
    axx.axis_label = name
    axx.axis_label_text_font = SERIF
    axx.axis_label_text_font_size = "15.7px"
    axx.axis_label_text_font_style = "normal"
    axx.axis_label_text_color = "#333333"
    axx.axis_label_standoff = 12
    axx.major_label_text_font = SERIF
    axx.major_label_text_font_size = "13px"
    axx.major_label_text_color = "#444444"
    axx.axis_line_color = "#555555"
    axx.axis_line_width = 1.5
    axx.major_tick_line_color = "#555555"
    axx.minor_tick_line_color = "#555555"
    axx.major_tick_in = 0; axx.major_tick_out = 4
    axx.minor_tick_in = 0; axx.minor_tick_out = 2
    axx.major_label_standoff = 4
r_line = pd_.line([0, 70], [0, 70], line_color="#7B6F68", line_width=2.6)
r_pts = pd_.scatter(TEST_EXP, TEST_PRED, size=8, fill_color="#E3AE58", line_color=None)
leg = Legend(items=[LegendItem(label="Testing samples", renderers=[r_pts]),
                    LegendItem(label="Best prediction (x=y)", renderers=[r_line])],
             location="top_left", border_line_color=None, background_fill_alpha=0, label_text_font=SERIF,
             label_text_font_size="18px", label_text_color="#222222", glyph_width=42, glyph_height=20, spacing=2,
             margin=5, padding=4, label_standoff=4, label_height=20)
pd_.add_layout(leg)
lab(pd_, 752, 790, "R² = 0.8452", 1161, 1088, 18.3, align="left")
lab(pd_, 752, 790, "RMSE = 4.8566", 1161, 1110, 18.3, align="left")
sd = canvas(752, 1363, 1180, 1232)
caption(sd, "(d) Constructing model", 1046, 1205)

# ---------------------------------------------------------------- panel e
pe = canvas(1448, 2177, 588, 1232)
E_BASE = [(1814.0, 1155.0), (1552.5, 1058.6), (2024.8, 1045.0), (1772.6, 959.3)]
E_TOP = [(1815.0, 758.0), (1539.0, 722.9), (2038.2, 718.2), (1774.0, 685.0)]
proj_e = make_proj(E_BASE, E_TOP, 0.5, 2.17, 1.14, 0.2, 41.1, 48.55)
E_HC = [0.5, 1.0, 1.5, 2.0]
E_OC = [0.2, 0.4, 0.6, 0.8, 1.0]
E_Z = [42, 44, 46, 48]
draw_box(pe, proj_e, 0.5, 2.17, 1.14, 0.2, 41.1, 48.55, E_HC, E_OC, E_Z, [0.75, 1.25, 1.75], [0.3, 0.5, 0.7, 0.9], "#E2E2E2", "#888888")
draw_surface(pe, proj_e, mesh_alpha=0.12, contour_alpha=0.4)
for h in E_HC:
    x, y = proj_e(h, 1.14, 41.1)
    txt(pe, x - 13, y + 8, f"{h:.1f}", 12, angle=-35, color="#555555", style="italic")
for o in E_OC:
    x, y = proj_e(0.5, o, 41.1)
    txt(pe, x + 15, y + 6, f"{o:.1f}", 12, angle=-25, color="#555555", style="italic")
for z in E_Z:
    x, y = proj_e(2.17, 1.14, z)
    txt(pe, x - 15, y + 3, str(z), 16, angle=-6, color="#333333")
txt(pe, 1514, 906, "Yield (%)", 19, angle=-85, color="#222222")
txt(pe, 1641, 1118, "H/C", 15, angle=-35, color="#333333", style="italic")
txt(pe, 1968, 1107, "O/C", 15, angle=38, color="#333333")
dx, dy = [], []
for runs, ox, oy in ((E_RUNS_TOP, 1680, 725), (E_RUNS_MID, 1600, 860), (E_RUNS_LOW, 1660, 1000)):
    for x0, y0, x1, y1, n in runs:
        dx.extend(ox + np.linspace(x0, x1, n) / 3)
        dy.extend(oy + np.linspace(y0, y1, n) / 3)
pe.scatter(dx, dy, size=5.2, fill_color="#A32040", line_color="#701028", line_width=0.5)
pe.scatter(np.array(dx) - .7, np.array(dy) - .7, size=1.7, fill_color="#E090A0", line_color=None, fill_alpha=.75)
up_x_ = [1721, 1843, 1843, 1901, 1780, 1659, 1721]
up_y_ = [676, 676, 635, 635, 589, 635, 635]
pe.patch(up_x_, up_y_, color=ARROW_C, line_width=0)
caption(pe, "(e) Smoothing the plot", 1782, 1194)

# ---------------------------------------------------------------- layout
arrow_1 = right_arrow(263, 386, 203, 446, 665, 707, 750, 665, 752, 0, 588)
arrow_2 = right_arrow(263, 386, 203, 446, 1363, 1406, 1446, 1363, 1448, 0, 588)
arrow_3 = right_arrow(880, 1002, 820, 1061, 1363, 1406, 1446, 1363, 1448, 588, 1232)
tile_a = column(column(pa), column(sa), spacing=0)
tile_b = column(column(sb_top), column(pb), column(sb_low), spacing=0)
tile_d = column(column(pbx, pd_, spacing=0), column(sd), spacing=0)
p = column(row(tile_a, column(arrow_1), tile_b, column(arrow_2), column(pf), spacing=0),
           row(column(pc), tile_d, column(arrow_3), column(pe), spacing=0), spacing=0)
open("out.html", "w").write(file_html(p, INLINE))
